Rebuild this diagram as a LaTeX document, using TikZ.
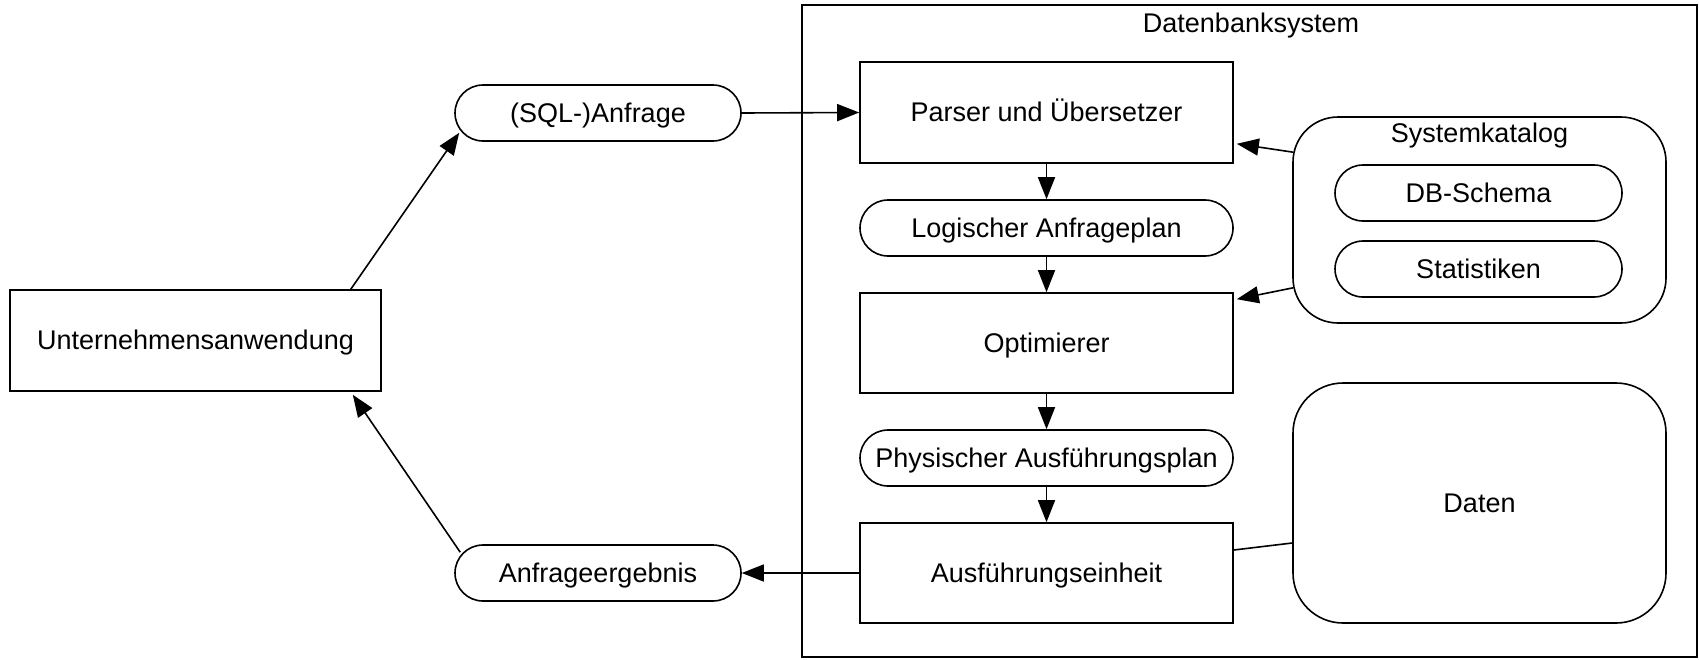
\documentclass[tikz,border=0pt]{standalone}
\usepackage{fontspec}
\setmainfont{Liberation Sans}
\usetikzlibrary{arrows.meta}

\begin{document}
\begin{tikzpicture}[x = 1pt, y = -1pt, line width = 1.6pt,
		font = \fontsize{27}{32}\selectfont,
		box/.style = {draw, rectangle, inner sep = 0pt, text height = 20pt, text depth = 2pt},
		pill/.style = {box, rounded corners = 28pt, minimum height = 56pt},
		arr/.style = {-{Triangle[length = 22pt, width = 17pt]}}]
	
		\useasboundingbox (0, 0) rectangle (1699, 659);
		
		% Datenbanksystem
		\node[box, minimum width = 895pt, minimum height = 652pt] (dbs) at (1249.5, 331) {};
		\node[anchor = base] (dbslabel) at (1251, 32) {Datenbanksystem};
		
		\node[box, minimum width = 371pt, minimum height = 101pt] (app) at (195.5, 340.5) {Unternehmensanwendung};
		\node[pill, minimum width = 286pt] (sql) at (598, 113) {(SQL-)Anfrage};
		\node[pill, minimum width = 286pt] (result) at (598, 573) {Anfrageergebnis};
		
		\node[box, minimum width = 373pt, minimum height = 101pt] (parser) at (1046.5, 112.5) {Parser und Übersetzer};
		\node[pill, minimum width = 373pt] (logical) at (1046.5, 228) {Logischer Anfrageplan};
		\node[box, minimum width = 373pt, minimum height = 100pt] (optimizer) at (1046.5, 343) {Optimierer};
		\node[pill, minimum width = 373pt] (physical) at (1046.5, 458) {Physischer Ausführungsplan};
		\node[box, minimum width = 373pt, minimum height = 100pt] (executor) at (1046.5, 573) {Ausführungseinheit};
		
		% Systemkatalog
		\node[box, rounded corners = 45pt, minimum width = 373pt, minimum height = 206pt] (catalog) at (1479.5, 220) {};
		\node[anchor = base] (catlabel) at (1479.5, 142) {Systemkatalog};
		\node[pill, minimum width = 287pt] (schema) at (1478.5, 193) {DB-Schema};
		\node[pill, minimum width = 287pt] (stats) at (1478.5, 269) {Statistiken};
		
		\node[box, rounded corners = 50pt, minimum width = 373pt, minimum height = 240pt] (data) at (1479.5, 503) {Daten};
		
		\draw[arr] ([xshift = -31pt]app.north east) -- ([shift = {(5pt, 9pt)}]sql.south west);
		\draw[arr] ([shift = {(6pt, -8pt)}]result.north west) -- ([shift = {(-29pt, -3pt)}]app.south east);
		\draw[arr] (sql.east) -- (parser.west);
		\draw[arr] (executor.west) -- (result.east);
		
		\foreach \a/\b in {parser/logical, logical/optimizer, optimizer/physical, physical/executor}
			\draw[arr] (\a) -- (\b);
		
		\draw[arr] ([shift = {(1pt, -36pt)}]catalog.north west) -- ([shift = {(3pt, 20pt)}]parser.south east);
		\draw[arr] ([shift = {(1pt, 36pt)}]catalog.south west) -- ([shift = {(3pt, -7pt)}]optimizer.north east);
		\draw ([yshift = -40pt]data.west) -- ([yshift = 23pt]executor.east);
		
	\end{tikzpicture}
\end{document}
